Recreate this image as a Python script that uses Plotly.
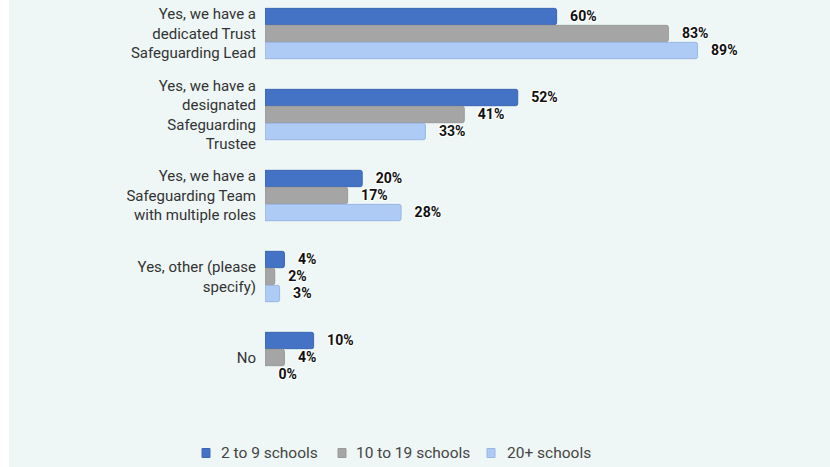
import plotly.graph_objects as go

# Survey responses: safeguarding leadership arrangements by trust size
categories = [
    "Yes, we have a<br>dedicated Trust<br>Safeguarding Lead",
    "Yes, we have a<br>designated<br>Safeguarding<br>Trustee",
    "Yes, we have a<br>Safeguarding Team<br>with multiple roles",
    "Yes, other (please<br>specify)",
    "No",
]
series_names = ["2 to 9 schools", "10 to 19 schools", "20+ schools"]
small_trusts = [60, 52, 20, 4, 10]
medium_trusts = [83, 41, 17, 2, 4]
large_trusts = [89, 33, 28, 3, 0]

fills = ["#4472c4", "#a5a5a5", "#aecbf5"]
edges = ["#3b66b4", "#999999", "#98b6e3"]
BG = "#eef7f6"

fig = go.Figure()
for name, vals, fill, edge in zip(series_names, [small_trusts, medium_trusts, large_trusts], fills, edges):
    fig.add_trace(go.Bar(
        name=name,
        y=categories,
        x=vals,
        orientation="h",
        marker=dict(color=fill,
                    line=dict(color=edge, width=[1 if v > 0 else 0 for v in vals])),
        text=[f"{v}%" for v in vals],
        texttemplate="\u00a0\u00a0\u00a0%{text}",
        textposition="outside",
        cliponaxis=False,
        textfont=dict(family="Roboto", size=15.5, color="#111111", weight="bold",
                      shadow="1px 1px 1px #ffffff, -1px -1px 1px #ffffff, 1px -1px 1px #ffffff, -1px 1px 1px #ffffff"),
        hoverinfo="skip",
        showlegend=False,
    ))

# plot area geometry (pixels)
W, H = 830, 467
left, right, bottom = 265, 751, 398
plot_w = right - left


def px_x(x):
    return (x - left) / plot_w


def px_y(y):
    return (bottom - y) / bottom


# legend row below the chart: swatch + label per series
legend_swatch_x = [202, 338, 487]
legend_text_x = [219, 354, 505]
legend_y = 453
shapes = [dict(
    type="rect", xref="paper", yref="paper", layer="below",
    x0=px_x(0) - 0.05, x1=px_x(9), y0=-1, y1=2,
    fillcolor="#ffffff", line=dict(width=0),
)]
annotations = []
for name, fill, edge, sx, tx in zip(series_names, fills, edges, legend_swatch_x, legend_text_x):
    shapes.append(dict(
        type="rect", xref="paper", yref="paper",
        x0=px_x(sx), x1=px_x(sx + 8), y0=px_y(legend_y + 4.5), y1=px_y(legend_y - 4.5),
        fillcolor=fill, line=dict(color=edge, width=1),
    ))
    annotations.append(dict(
        xref="paper", yref="paper", x=px_x(tx), y=px_y(legend_y),
        xanchor="left", yanchor="middle", showarrow=False, text=name,
        font=dict(family="Roboto", size=15.5, color="#444444"),
    ))

fig.update_layout(
    width=W, height=H,
    barmode="group",
    bargap=0.37,
    bargroupgap=0.04,
    barcornerradius=2,
    paper_bgcolor=BG,
    plot_bgcolor=BG,
    margin=dict(l=left, r=W - right, t=0, b=H - bottom, pad=0, autoexpand=False),
    font=dict(family="Roboto", size=15, color="#333333"),
    xaxis=dict(range=[0, 100], visible=False, fixedrange=True),
    yaxis=dict(
        range=[4.5, -0.414],
        showgrid=False, zeroline=False, showline=False,
        ticks="", ticklabelstandoff=8,
        tickfont=dict(family="Roboto", size=15, color="#333333"),
    ),
    showlegend=False,
    shapes=shapes,
    annotations=annotations,
)

fig.write_html("out.html", config={"displayModeBar": False})
